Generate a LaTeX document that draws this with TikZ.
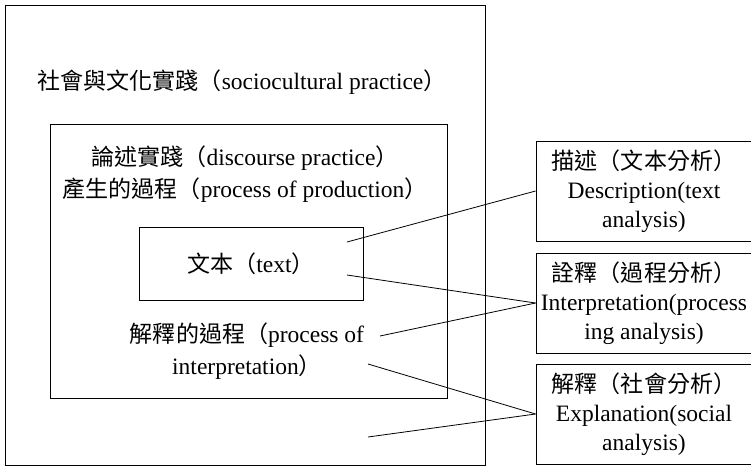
\documentclass[tikz,border=0pt]{standalone}
\usepackage{fontspec}
\setmainfont{Liberation Serif}
\newfontfamily\cjk[Scale=0.98]{Noto Sans CJK TC}
\tikzset{
  base/.style={font=\fontsize{23.5pt}{32pt}\selectfont, inner sep=0pt},
  frame/.style={draw, line width=0.9pt, inner sep=0pt, anchor=north west},
  label/.style={base, align=center},
  sidebox/.style={draw, line width=0.9pt, minimum width=216pt, minimum height=100pt, inner sep=0pt, align=center, font=\fontsize{23.5pt}{29pt}\selectfont},
  link/.style={line width=0.8pt}
}
\begin{document}
\begin{tikzpicture}[x=1pt,y=-1pt]
\useasboundingbox (0,0) rectangle (751,467);
\fill[white] (0,0) rectangle (751,467);
% frames
\node[frame, minimum width=480pt, minimum height=460pt] (outer) at (5,5) {};
\node[frame, minimum width=397pt, minimum height=274pt] (middle) at (50,124) {};
\node[draw, line width=0.9pt, minimum width=224pt, minimum height=73pt, inner sep=0pt, base] (textbox) at (251,263.5) {{\cjk 文本（}text{\cjk ）}};
% labels
\node[label] (soc) at (242,82) {{\cjk 社會與文化實踐（}sociocultural practice{\cjk ）}};
\node[label] (disc) at (245,174) {{\cjk 論述實踐（}discourse practice{\cjk ）}\\{\cjk 產生的過程（}process of production{\cjk ）}};
\node[label] (interp) at (247,351) {{\cjk 解釋的過程（}process of\\interpretation{\cjk ）}};
% side boxes
\node[sidebox] (desc) at (644,191) {{\cjk 描述（文本分析）}\\Description(text\\analysis)};
\node[sidebox] (intp) at (644,303) {{\cjk 詮釋（過程分析）}\\Interpretation(process\\ing analysis)};
\node[sidebox] (expl) at (644,414) {{\cjk 解釋（社會分析）}\\Explanation(social\\analysis)};
% free ends
\coordinate (e1) at (347,242);
\coordinate (e2) at (347,275);
\coordinate (e3) at (380,336);
\coordinate (e4) at (368,364);
\coordinate (e5) at (368,437);
% connectors
\draw[link] (e1) -- (desc.west);
\draw[link] (e2) -- (intp.west);
\draw[link] (e3) -- (intp.west);
\draw[link] (e4) -- (expl.west);
\draw[link] (e5) -- (expl.west);
\end{tikzpicture}
\end{document}
